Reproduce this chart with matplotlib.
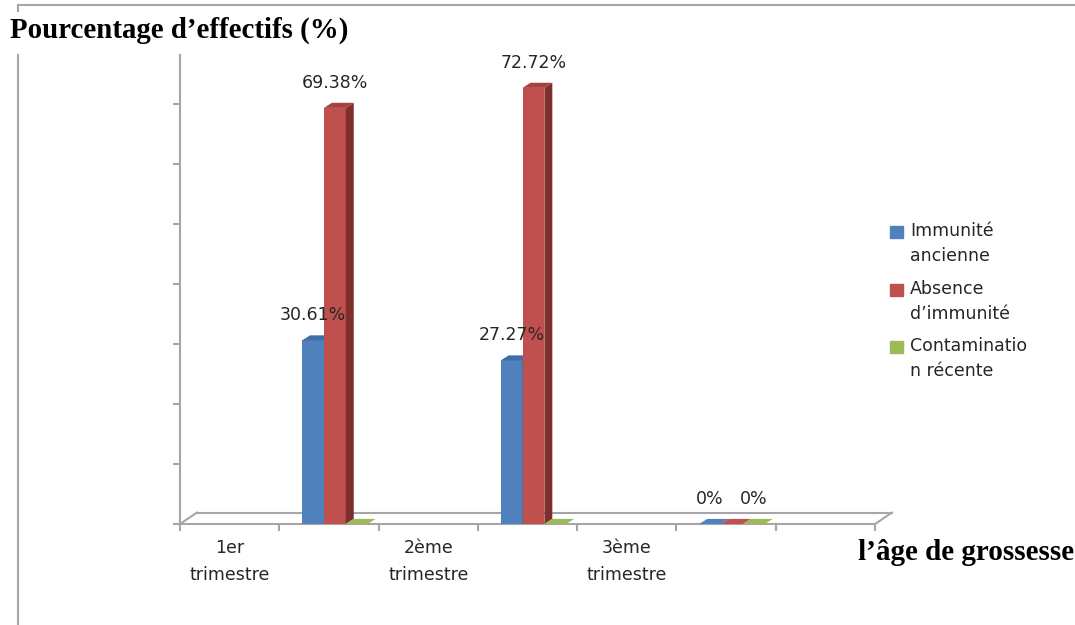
import matplotlib
matplotlib.use('Agg')
import matplotlib.pyplot as plt
from matplotlib.patches import Polygon, Rectangle
from matplotlib.lines import Line2D

# Data
categories = ['1er\ntrimestre', '2ème\ntrimestre', '3ème\ntrimestre']
series = ['Immunité\nancienne', 'Absence\nd’immunité', 'Contaminatio\nn récente']
immunite = [30.61, 27.27, 0]
absence = [69.38, 72.72, 0]
contamination = [0, 0, 0]
# which data labels are visible in the picture (per series, per category)
show_label = [[True, True, True], [True, True, False], [False, False, True]]

colors = ['#4F81BD', '#C0504D', '#9BBB59']
sides = ['#385D8A', '#7E2F2D', '#6E8A3A']
tops = ['#3F6FA8', '#A9403D', '#86A64A']
grey = '#A6A6A6'
txtc = '#262626'

W, H = 1075, 625
fig = plt.figure(figsize=(W / 100, H / 100), dpi=100)
ax = fig.add_axes([180 / W, (H - 524) / H, 695 / W, (524 - 55) / H])
ax.set_xlim(0, 7)
ax.set_ylim(0, 78.2)

bw = 0.22     # bar width (category units)
dx, dy = 0.08, 0.85   # depth of the bars
fdx, fdy = 0.17, 1.9  # depth of the floor

# floor
ax.plot([fdx, 7 + fdx], [fdy, fdy], color=grey, lw=1.5, clip_on=False, zorder=1)
ax.plot([0, fdx], [0, fdy], color=grey, lw=1.5, clip_on=False, zorder=1)
ax.plot([7, 7 + fdx], [0, fdy], color=grey, lw=1.5, clip_on=False, zorder=1)

all_vals = [immunite, absence, contamination]
for j, vals in enumerate(all_vals):
    for i, h in enumerate(vals):
        x = 2 * i + 1 + 0.23 + j * bw
        z = 3 + j
        ax.bar(x, h, bw, align='edge', color=colors[j], zorder=z, lw=0)
        ax.add_patch(Polygon([(x + bw, 0), (x + bw + dx, dy), (x + bw + dx, h + dy), (x + bw, h)],
                             closed=True, color=sides[j], lw=0, zorder=z))
        ax.add_patch(Polygon([(x, h), (x + dx, h + dy), (x + bw + dx, h + dy), (x + bw, h)],
                             closed=True, color=tops[j] if h > 0 else colors[j], lw=0, zorder=z))
        if show_label[j][i]:
            txt = '0%' if h == 0 else '{:.2f}%'.format(h)
            ax.annotate(txt, (x + bw / 2, h), xytext=(0, 18), textcoords='offset points',
                        ha='center', va='center', fontsize=12.5, color=txtc,
                        family='DejaVu Sans', zorder=10)

# axes styling
for s in ['top', 'right']:
    ax.spines[s].set_visible(False)
for s in ['left', 'bottom']:
    ax.spines[s].set_color(grey)
    ax.spines[s].set_linewidth(1.5)
ax.set_yticks(range(0, 80, 10))
ax.set_yticklabels([])
ax.set_xticks(range(0, 8))
ax.set_xticklabels([])
ax.set_xticks([2 * i + 0.5 for i in range(len(categories))], minor=True)
ax.set_xticklabels(categories, minor=True, fontsize=12.5, color=txtc, family='DejaVu Sans')
ax.tick_params(axis='both', which='major', color=grey, width=1.5, length=5)
ax.tick_params(axis='x', which='minor', length=0, pad=11)
for t in ax.get_xticklabels(minor=True):
    t.set_linespacing(1.6)

# legend drawn by hand (squares aligned on first line)
leg_y = [232, 290, 347]
for j, name in enumerate(series):
    fig.add_artist(Rectangle((890 / W, 1 - (leg_y[j] + 6) / H), 13 / W, 12 / H,
                             transform=fig.transFigure, color=colors[j]))
    fig.text(910 / W, 1 - (leg_y[j] - 10) / H, name, fontsize=12.5, color=txtc,
             family='DejaVu Sans', va='top', ha='left', linespacing=1.5)

# titles
fig.text(10 / W, 1 - 30 / H, 'Pourcentage d’effectifs (%)', fontsize=20.8, fontweight='bold',
         family='Liberation Serif', va='center', ha='left')
fig.text(1074 / W, 1 - 553 / H, 'l’âge de grossesse', fontsize=21, fontweight='bold',
         family='Liberation Serif', va='center', ha='right')

# outer frame lines
fig.add_artist(Line2D([18 / W, 1], [1 - 5 / H, 1 - 5 / H], color=grey, lw=1.5))
fig.add_artist(Line2D([18 / W, 18 / W], [1 - 5 / H, 1 - 11 / H], color=grey, lw=1.5))
fig.add_artist(Line2D([18 / W, 18 / W], [1 - 55 / H, 0], color=grey, lw=1.5))

fig.savefig('out.png', dpi=100)
